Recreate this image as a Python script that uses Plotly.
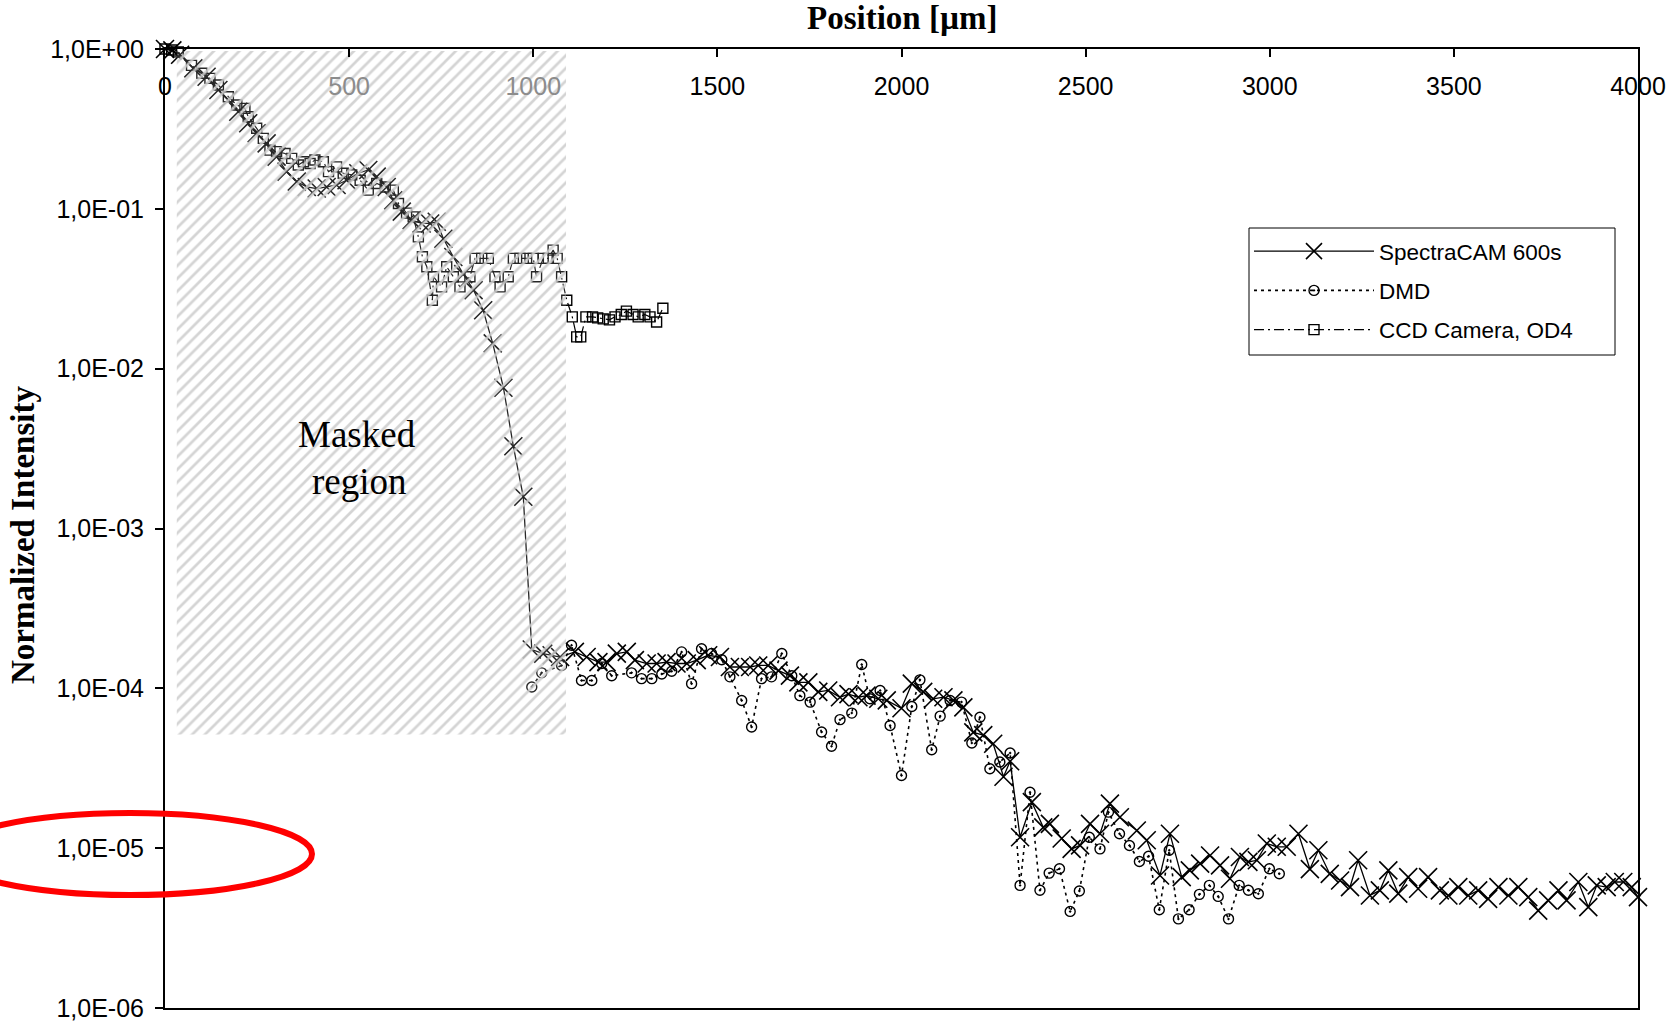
import plotly.graph_objects as go

# ---------------- data ----------------
spectra_x = [0, 20, 41, 77, 113, 145, 172, 199, 226, 249, 276, 303, 330, 358, 385, 412, 439, 466,
             493, 525, 552, 575, 602, 620, 643, 670, 697, 720, 738, 756, 783, 810, 838, 864, 890,
             919, 946, 973, 996,
             1027, 1050, 1073, 1113, 1145, 1177, 1199, 1227, 1254, 1276, 1308, 1335, 1362, 1389,
             1417, 1444, 1475, 1507, 1534, 1561, 1589, 1611, 1638, 1666, 1697, 1720, 1747, 1774,
             1801, 1833, 1856, 1883, 1905, 1937, 1960, 2000, 2028, 2059, 2086, 2114, 2141, 2168,
             2195, 2222, 2249, 2277, 2295,
             2322, 2354, 2385, 2403, 2435, 2462, 2485, 2512, 2539, 2566, 2593, 2639, 2666, 2702,
             2729, 2761, 2783, 2811, 2838, 2865, 2892, 2919, 2942, 2965, 2992, 3019, 3046, 3078,
             3109, 3132, 3163, 3191, 3218, 3240, 3272, 3299, 3322, 3349, 3376, 3403, 3430, 3462,
             3485, 3512, 3539, 3566, 3593, 3621, 3648, 3675, 3702, 3729, 3756, 3784, 3806, 3838,
             3865, 3888, 3915, 3937, 3960, 3983, 4000]
spectra_y = [1.0, 0.98, 0.92, 0.757, 0.671, 0.554, 0.48, 0.405, 0.343, 0.297, 0.257, 0.212, 0.171,
             0.148, 0.137, 0.134, 0.137, 0.141, 0.151, 0.167, 0.175, 0.159, 0.137, 0.113, 0.096,
             0.085, 0.081, 0.081, 0.083, 0.065, 0.050, 0.039, 0.031, 0.0232, 0.0144, 0.0076,
             0.00327, 0.00158, 1.75e-4,
             1.65e-4, 1.61e-4, 1.57e-4, 1.69e-4, 1.57e-4, 1.46e-4, 1.46e-4, 1.65e-4, 1.69e-4,
             1.50e-4, 1.43e-4, 1.43e-4, 1.46e-4, 1.43e-4, 1.43e-4, 1.50e-4, 1.61e-4, 1.57e-4,
             1.36e-4, 1.36e-4, 1.36e-4, 1.39e-4, 1.39e-4, 1.29e-4, 1.20e-4, 1.09e-4, 1.09e-4,
             9.5e-5, 9.7e-5, 8.8e-5, 9.2e-5, 8.8e-5, 9.0e-5, 8.6e-5, 8.4e-5, 7.5e-5, 1.07e-4,
             9.5e-5, 8.6e-5, 8.8e-5, 8.4e-5, 7.6e-5, 5.3e-5, 5.1e-5, 4.5e-5, 2.8e-5, 3.5e-5,
             1.17e-5, 1.94e-5, 1.35e-5, 1.42e-5, 1.15e-5, 9.9e-6, 1.04e-5, 1.42e-5, 1.23e-5,
             1.9e-5, 1.56e-5, 1.29e-5, 1.12e-5, 6.75e-6, 1.23e-5, 6.59e-6, 7.26e-6, 8.0e-6,
             9.0e-6, 7.8e-6, 6.44e-6, 8.8e-6, 8.2e-6, 8.4e-6, 1.07e-5, 1.02e-5, 1.02e-5, 1.23e-5,
             7.4e-6, 9.7e-6, 6.9e-6, 6.28e-6, 5.71e-6, 8.4e-6, 5.06e-6, 5.44e-6, 7.26e-6, 5.19e-6,
             6.59e-6, 5.57e-6, 6.59e-6, 5.44e-6, 5.06e-6, 5.71e-6, 5.06e-6, 5.44e-6, 4.82e-6,
             5.71e-6, 5.06e-6, 5.71e-6, 4.94e-6, 4.07e-6, 4.71e-6, 5.44e-6, 4.71e-6, 6.14e-6,
             4.28e-6, 5.85e-6, 5.71e-6, 6.14e-6, 6.14e-6, 5.71e-6, 4.94e-6]

dmd_x = [996, 1023, 1077, 1104, 1131, 1159, 1186, 1213, 1267, 1294, 1322, 1349, 1376, 1403, 1430,
         1457, 1484, 1512, 1534, 1566, 1593, 1620, 1647, 1675, 1702, 1724, 1752, 1783, 1810, 1833,
         1865, 1892, 1914, 1942, 1969, 2000, 2028, 2050, 2082, 2105, 2132, 2163, 2191, 2213, 2240,
         2267, 2295, 2322, 2349, 2376, 2401, 2429, 2458, 2483, 2510, 2539, 2562, 2592, 2619, 2646,
         2671, 2700, 2727, 2752, 2781, 2809, 2836, 2860, 2888, 2917, 2942, 2969, 2999, 3026]
dmd_y = [1.02e-4, 1.25e-4, 1.39e-4, 1.86e-4, 1.12e-4, 1.12e-4, 1.43e-4, 1.20e-4, 1.25e-4, 1.15e-4,
         1.15e-4, 1.23e-4, 1.28e-4, 1.69e-4, 1.07e-4, 1.77e-4, 1.65e-4, 1.51e-4, 1.18e-4, 8.4e-5,
         5.73e-5, 1.15e-4, 1.18e-4, 1.65e-4, 1.20e-4, 9.0e-5, 8.2e-5, 5.33e-5, 4.34e-5, 6.37e-5,
         7.0e-5, 1.41e-4, 8.6e-5, 9.7e-5, 5.86e-5, 2.85e-5, 7.7e-5, 1.13e-4, 4.13e-5, 6.7e-5,
         8.4e-5, 8.2e-5, 4.55e-5, 6.6e-5, 3.14e-5, 3.46e-5, 3.94e-5, 5.85e-6, 2.24e-5, 5.45e-6,
         6.98e-6, 7.43e-6, 4.02e-6, 5.4e-6, 1.17e-5, 9.9e-6, 1.68e-5, 1.23e-5, 1.04e-5, 8.26e-6,
         8.9e-6, 4.12e-6, 9.7e-6, 3.61e-6, 4.12e-6, 5.14e-6, 5.85e-6, 4.99e-6, 3.61e-6, 5.85e-6,
         5.45e-6, 5.19e-6, 7.43e-6, 6.92e-6]

ccd_x = [0, 18, 36, 72, 100, 122, 145, 172, 195, 217, 226, 249, 267, 285, 303, 326, 344, 362, 376,
         394, 407, 430, 444, 466, 484, 507, 530, 552, 575, 598, 620, 634, 656, 674, 688, 699, 711,
         726, 729, 751, 765, 783, 801, 828, 842, 860, 878, 896, 910, 932, 946, 964, 982, 1000,
         1009, 1027, 1041, 1054, 1065, 1077, 1091, 1106, 1118, 1129, 1143, 1161, 1175, 1190, 1207,
         1222, 1239, 1253, 1271, 1285, 1303, 1317, 1335, 1352]
ccd_y = [1.0, 0.985, 0.96, 0.79, 0.705, 0.655, 0.595, 0.503, 0.446, 0.425, 0.377, 0.319, 0.276,
         0.233, 0.228, 0.222, 0.207, 0.188, 0.197, 0.192, 0.202, 0.197, 0.171, 0.183, 0.167, 0.163,
         0.151, 0.131, 0.144, 0.137, 0.131, 0.108, 0.094, 0.089, 0.0668, 0.0501, 0.0434, 0.0268,
         0.0376, 0.0325, 0.0434, 0.0376, 0.0325, 0.0376, 0.049, 0.049, 0.049, 0.0376, 0.0325,
         0.0376, 0.049, 0.049, 0.049, 0.049, 0.0376, 0.049, 0.049, 0.0552, 0.049, 0.0376, 0.0268,
         0.0211, 0.0158, 0.0158, 0.0211, 0.0211, 0.0208, 0.0205, 0.0202, 0.0211, 0.0218, 0.0229,
         0.0218, 0.0211, 0.0218, 0.0211, 0.0196, 0.0239]

series_names = ["SpectraCAM 600s", "DMD", "CCD Camera, OD4"]

x_tick_vals = [0, 500, 1000, 1500, 2000, 2500, 3000, 3500, 4000]
x_tick_labels = ["0", "500", "1000", "1500", "2000", "2500", "3000", "3500", "4000"]
y_tick_vals = [1e0, 1e-1, 1e-2, 1e-3, 1e-4, 1e-5, 1e-6]
y_tick_labels = ["1,0E+00", "1,0E-01", "1,0E-02", "1,0E-03", "1,0E-04", "1,0E-05", "1,0E-06"]

# masked (hatched) region extents in data units
mask_x0, mask_x1 = 32, 1089
mask_y0, mask_y1 = 5.15e-5, 0.97

# ---------------- figure ----------------
W, H = 1671, 1022
ML, MR, MT, MB = 165, 33, 49, 14
PW, PH = W - ML - MR, H - MT - MB

def px_to_paper_x(X):
    return (X - ML) / PW

def px_to_paper_y(Y):
    return (H - MB - Y) / PH

fig = go.Figure()

fig.add_trace(go.Scatter(
    x=spectra_x, y=spectra_y, name=series_names[0], mode="lines+markers",
    line=dict(color="black", width=1.3),
    marker=dict(symbol="x-thin", size=18, color="black", line=dict(color="black", width=1.6)),
    cliponaxis=False, legendgroup="a"))

fig.add_trace(go.Scatter(
    x=dmd_x, y=dmd_y, name=series_names[1], mode="lines+markers",
    line=dict(color="black", width=1.6, dash="3px,4px"),
    marker=dict(symbol="circle-open-dot", size=10, color="black", line=dict(color="black", width=1.4)),
    cliponaxis=False, legendgroup="b"))

fig.add_trace(go.Scatter(
    x=ccd_x, y=ccd_y, name=series_names[2], mode="lines+markers",
    line=dict(color="black", width=1.2, dash="10px,4px,2px,4px"),
    marker=dict(symbol="square-open", size=10, color="black", line=dict(color="black", width=1.4)),
    cliponaxis=False, legendgroup="c"))

# hatched overlay for the masked region, on the overlaying axis so it sits above the data
fig.add_trace(go.Scatter(
    x=[mask_x0, mask_x1, mask_x1, mask_x0, mask_x0],
    y=[mask_y0, mask_y0, mask_y1, mask_y1, mask_y0],
    xaxis="x2", yaxis="y",
    mode="lines", fill="toself", line=dict(width=0, color="rgba(0,0,0,0)"),
    fillcolor="rgba(255,255,255,0.15)",
    fillpattern=dict(shape="/", fgcolor="rgba(205,205,205,0.85)", bgcolor="rgba(255,255,255,0.15)",
                     size=9, solidity=0.3, fillmode="replace"),
    showlegend=False, hoverinfo="skip"))

tick_font = dict(family="Liberation Sans, Arial, sans-serif", size=25, color="black")

x_tick_text = [("<span style='color:#8c8c8c'>%s</span>" % t) if (mask_x0 < v < mask_x1) else t
               for v, t in zip(x_tick_vals, x_tick_labels)]

fig.update_layout(
    width=W, height=H, autosize=False,
    margin=dict(l=ML, r=MR, t=MT, b=MB, autoexpand=False),
    paper_bgcolor="white", plot_bgcolor="white",
    showlegend=True,
    legend=dict(x=px_to_paper_x(1249), y=px_to_paper_y(230), xanchor="left", yanchor="top",
                borderwidth=0, bgcolor="rgba(0,0,0,0)",
                font=dict(family="Liberation Sans, Arial, sans-serif", size=22.5, color="black"),
                tracegroupgap=7, itemwidth=120),
    # top axis line with inward ticks (no labels)
    xaxis=dict(range=[0, 4000], side="top", showline=True, linecolor="black", linewidth=2,
               mirror=True, ticks="inside", ticklen=8, tickwidth=1.5, tickcolor="black",
               tickvals=x_tick_vals, showticklabels=False,
               showgrid=False, zeroline=False, automargin=False),
    # tick labels hanging just under the top axis line
    xaxis2=dict(range=[0, 4000], overlaying="x", matches="x", anchor="free", position=1,
                side="bottom", showline=False, ticks="", tickvals=x_tick_vals,
                ticktext=x_tick_text, tickfont=tick_font, ticklabelstandoff=20,
                showgrid=False, zeroline=False, automargin=False),
    yaxis=dict(type="log", range=[-6, 0], showline=True, linecolor="black", linewidth=2,
               mirror=True, ticks="outside", ticklen=8, tickwidth=1.5, tickcolor="black",
               tickvals=y_tick_vals, ticktext=y_tick_labels, tickfont=tick_font,
               ticklabelstandoff=6, showgrid=False, zeroline=False, automargin=False),
)

# legend frame (wider than Plotly's auto-sized legend box, as in the reference)
fig.add_shape(type="rect", xref="paper", yref="paper",
              x0=px_to_paper_x(1249), x1=px_to_paper_x(1615),
              y0=px_to_paper_y(355), y1=px_to_paper_y(228),
              line=dict(color="black", width=1), fillcolor="white", layer="below")

serif_bold = dict(family="Liberation Serif, Times New Roman, serif", size=33, color="black")
serif_reg = dict(family="Liberation Serif, Times New Roman, serif", size=37, color="black")

fig.add_annotation(text="<b>Position [µm]</b>", xref="paper", yref="paper",
                   x=0.5, y=px_to_paper_y(18), xanchor="center", yanchor="middle",
                   showarrow=False, font=serif_bold)
fig.add_annotation(text="<b>Normalized Intensity</b>", xref="paper", yref="paper",
                   x=px_to_paper_x(23), y=px_to_paper_y(535), xanchor="center", yanchor="middle",
                   textangle=-90, showarrow=False, font=serif_bold)
fig.add_annotation(text="Masked", xref="paper", yref="paper",
                   x=px_to_paper_x(357), y=px_to_paper_y(435), xanchor="center", yanchor="middle",
                   showarrow=False, font=serif_reg)
fig.add_annotation(text="region", xref="paper", yref="paper",
                   x=px_to_paper_x(359), y=px_to_paper_y(481), xanchor="center", yanchor="middle",
                   showarrow=False, font=serif_reg)

# red highlight ellipse around the 1,0E-05 label
fig.add_shape(type="circle", xref="paper", yref="paper",
              x0=px_to_paper_x(-52), x1=px_to_paper_x(312),
              y0=px_to_paper_y(895), y1=px_to_paper_y(813),
              line=dict(color="#ff0000", width=6), layer="above")

fig.write_html("out.html")
